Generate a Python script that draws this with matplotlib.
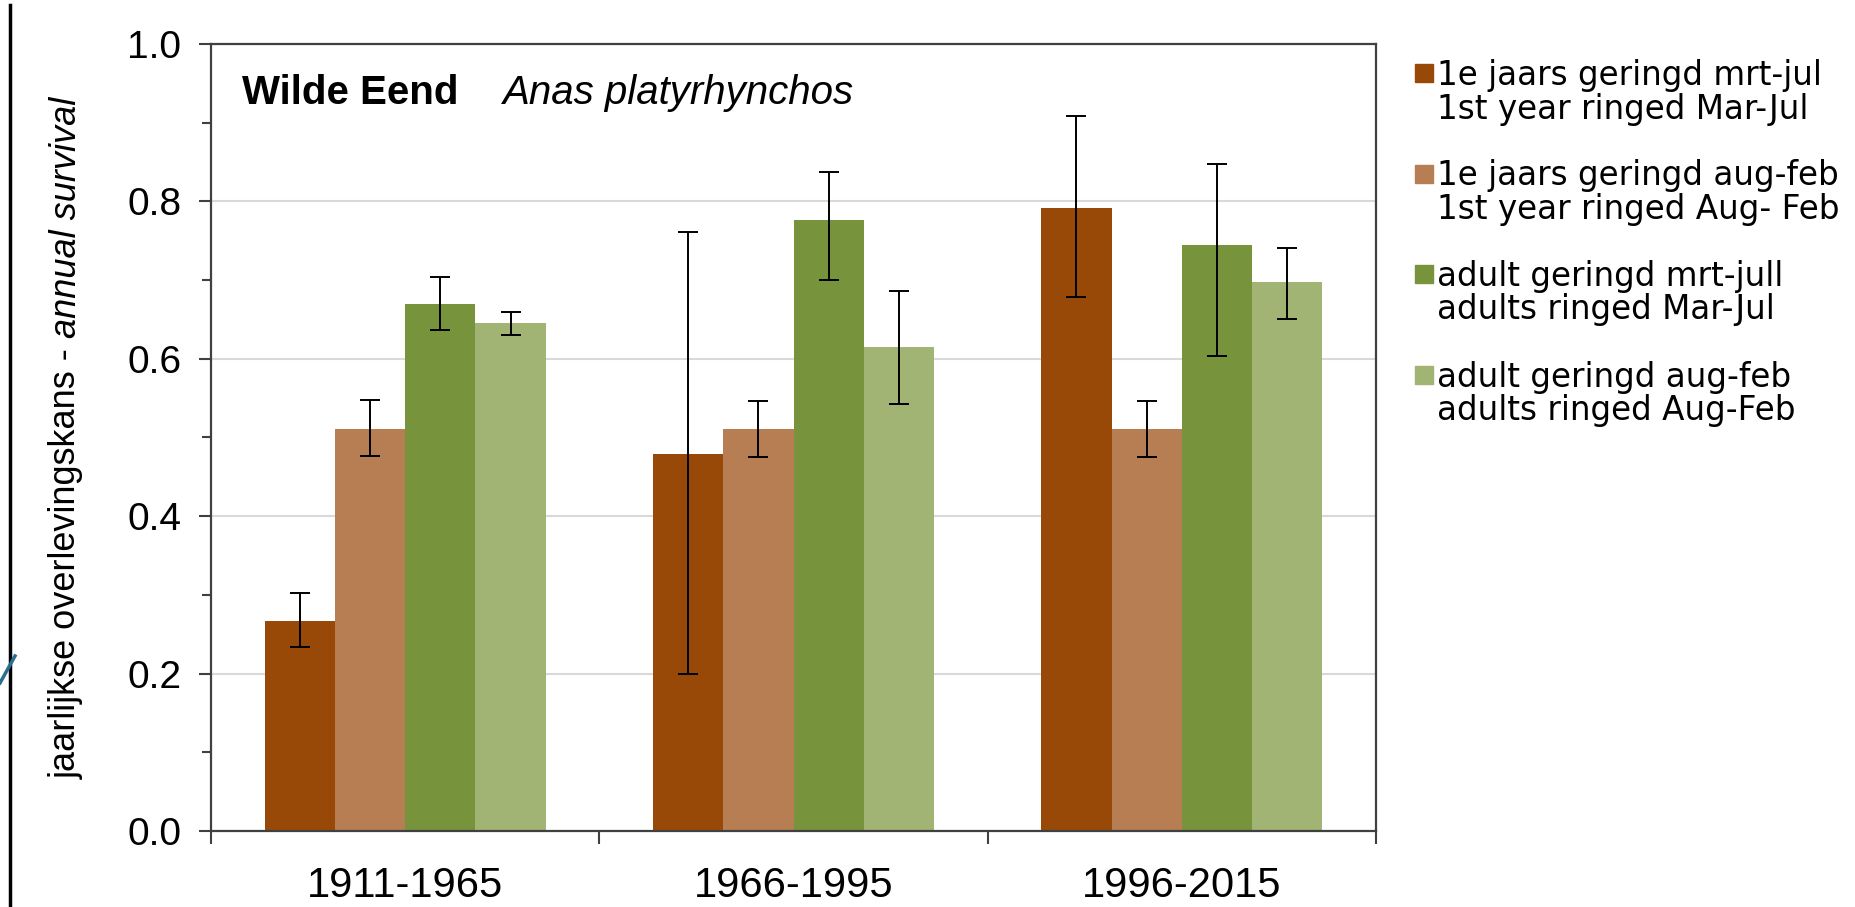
import numpy as np
import matplotlib
matplotlib.use('Agg')
import matplotlib.pyplot as plt
from matplotlib.patches import Rectangle
from matplotlib.lines import Line2D

plt.rcParams['font.family'] = ['Liberation Sans', 'DejaVu Sans']

# Data
periods = ['1911-1965', '1966-1995', '1996-2015']
labels_nl = ['1e jaars geringd mrt-jul', '1e jaars geringd aug-feb',
             'adult geringd mrt-jull', 'adult geringd aug-feb']
labels_en = ['1st year ringed Mar-Jul', '1st year ringed Aug- Feb',
             'adults ringed Mar-Jul', 'adults ringed Aug-Feb']
colors = ['#984807', '#B77E53', '#77933C', '#A1B474']

juv_mar_jul = [0.267, 0.479, 0.792]
juv_mar_jul_lo = [0.234, 0.199, 0.678]
juv_mar_jul_hi = [0.303, 0.761, 0.909]

juv_aug_feb = [0.511, 0.511, 0.511]
juv_aug_feb_lo = [0.476, 0.475, 0.475]
juv_aug_feb_hi = [0.548, 0.547, 0.547]

ad_mar_jul = [0.670, 0.776, 0.744]
ad_mar_jul_lo = [0.637, 0.700, 0.604]
ad_mar_jul_hi = [0.704, 0.837, 0.848]

ad_aug_feb = [0.646, 0.615, 0.698]
ad_aug_feb_lo = [0.630, 0.543, 0.651]
ad_aug_feb_hi = [0.660, 0.686, 0.741]

vals = [juv_mar_jul, juv_aug_feb, ad_mar_jul, ad_aug_feb]
lows = [juv_mar_jul_lo, juv_aug_feb_lo, ad_mar_jul_lo, ad_aug_feb_lo]
highs = [juv_mar_jul_hi, juv_aug_feb_hi, ad_mar_jul_hi, ad_aug_feb_hi]

W, H = 1855, 907
fig = plt.figure(figsize=(W / 100, H / 100), dpi=100)
ax = fig.add_axes([211 / W, 76 / H, (1376 - 211) / W, (831 - 44) / H])

x = np.arange(len(periods))
w = 0.181
for k in range(4):
    v = np.array(vals[k])
    xs = x + (k - 1.5) * w
    ax.bar(xs, v, width=w, color=colors[k], zorder=2)
    err = [v - np.array(lows[k]), np.array(highs[k]) - v]
    ax.errorbar(xs, v, yerr=err, fmt='none', ecolor='black',
                elinewidth=1.4, capsize=7, capthick=1.4, zorder=3)

ax.set_xlim(-0.5, 2.5)
ax.set_ylim(0, 1.0)
ax.set_yticks(np.arange(0, 1.01, 0.2))
ax.set_yticks(np.arange(0.1, 1.0, 0.2), minor=True)
ax.set_yticklabels(['%.1f' % t for t in np.arange(0, 1.01, 0.2)])
ax.set_xticks([-0.5, 0.5, 1.5, 2.5])
ax.set_xticklabels([])
ax.set_xticks(x, minor=True)
ax.set_xticklabels(periods, minor=True)

ax.yaxis.grid(True, color='#d9d9d9', lw=1.5)
ax.set_axisbelow(True)
for s in ax.spines.values():
    s.set_color('#404040')
    s.set_linewidth(1.6)

ax.tick_params(axis='y', which='major', direction='out', length=8.5, width=1.5,
               color='#404040', labelsize=28, pad=13)
ax.tick_params(axis='y', which='minor', direction='out', length=6.5, width=1.5,
               color='#404040')
ax.tick_params(axis='x', which='major', direction='out', length=9, width=1.5,
               color='#404040')
ax.tick_params(axis='x', which='minor', length=0, labelsize=30, pad=25)

# title inside plot: bold Dutch name + italic latin name
t_bold = fig.text(242 / W, 1 - 104 / H, 'Wilde Eend', fontsize=29,
                  fontweight='bold', va='baseline', ha='left')
t_ital = fig.text(0, 1 - 104 / H, 'Anas platyrhynchos', fontsize=29,
                  style='italic', va='baseline', ha='left')

# y label in two styles
yl1 = fig.text(66 / W, 0.5, 'jaarlijkse overlevingskans - ', fontsize=26,
               rotation=90, ha='center', va='bottom')
yl2 = fig.text(66 / W, 0.5, 'annual survival', fontsize=26, style='italic',
               rotation=90, ha='center', va='bottom')

fig.canvas.draw()
r = fig.canvas.get_renderer()
bb = t_bold.get_window_extent(r)
t_ital.set_x((bb.x1 + 44) / W)
h1 = yl1.get_window_extent(r).height
h2 = yl2.get_window_extent(r).height
yc = H - (44 + 831) / 2
start = yc - (h1 + h2) / 2
yl1.set_y(start / H)
yl2.set_y((start + h1) / H)

# legend drawn by hand (two lines per entry, box next to first line)
for k in range(4):
    top = 64 + k * 100.5
    fig.add_artist(Rectangle((1415 / W, 1 - (top + 18) / H), 18 / W, 18 / H,
                             transform=fig.transFigure, color=colors[k]))
    fig.text(1437 / W, 1 - (top + 21) / H, labels_nl[k], fontsize=23.5,
             family='DejaVu Sans', va='baseline', ha='left')
    fig.text(1437 / W, 1 - (top + 54.5) / H, labels_en[k], fontsize=23.5,
             family='DejaVu Sans', va='baseline', ha='left')

# slide edge remnant on the left
fig.add_artist(Line2D([10 / W, 10 / W], [0, 1 - 5 / H], color='black', lw=2.5))
fig.add_artist(Line2D([0, 15 / W], [1 - 683 / H, 1 - 656 / H],
                      color='#2a6f8f', lw=2.5))

fig.savefig('out.png', dpi=100)
